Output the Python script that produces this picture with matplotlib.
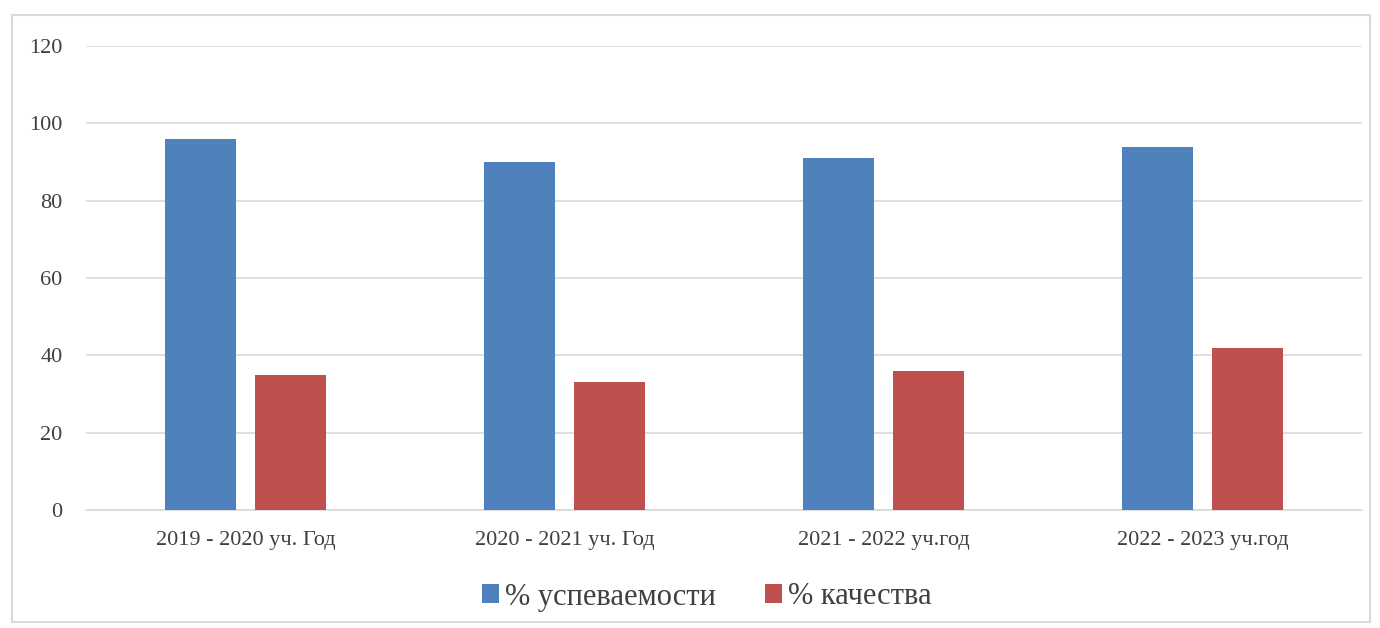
import matplotlib.pyplot as plt
import numpy as np
from matplotlib.patches import Rectangle

years = ["2019 - 2020 уч. Год", "2020 - 2021 уч. Год", "2021 - 2022 уч.год", "2022 - 2023 уч.год"]
uspevaemost = [96, 90, 91, 94]
kachestvo = [35, 33, 36, 42]

BLUE = "#4f81bd"
RED = "#c0504d"

plt.rcParams["font.family"] = ["Liberation Serif", "DejaVu Serif"]

fig = plt.figure(figsize=(13.8, 6.28), dpi=100)
ax = fig.add_axes([86 / 1380, 1 - 510 / 628, (1362 - 86) / 1380, (510 - 46) / 628])

# outer chart frame
fig.patches.append(Rectangle((12 / 1380, 1 - 622 / 628), 1358 / 1380, 607 / 628,
                             transform=fig.transFigure, fill=False,
                             edgecolor="#d9d9d9", linewidth=1.5))

x = np.arange(len(years))
w = 0.223
ax.bar(x - 0.142, uspevaemost, w, color=BLUE, label="% успеваемости", zorder=3)
ax.bar(x + 0.142, kachestvo, w, color=RED, label="% качества", zorder=3)

ax.set_xlim(-0.5, len(years) - 0.5)
ax.set_ylim(0, 120)
ax.set_yticks(range(0, 121, 20))
ax.yaxis.grid(True, color="#d9d9d9", linewidth=1.2)
ax.set_axisbelow(True)
for s in ["top", "right", "left"]:
    ax.spines[s].set_visible(False)
ax.spines["bottom"].set_color("#d9d9d9")
ax.spines["bottom"].set_linewidth(1.2)
ax.tick_params(axis="both", length=0, labelsize=16, colors="#404040")
ax.tick_params(axis="y", pad=17)
ax.tick_params(axis="x", pad=15)
ax.set_xticks(x)
ax.set_xticklabels(years)

fig.legend(loc="center", bbox_to_anchor=(707 / 1380, 1 - 597 / 628), ncol=2, frameon=False,
           fontsize=22, handlelength=0.55, handleheight=0.55, handletextpad=0.2,
           columnspacing=1.6, labelcolor="#404040")

fig.savefig("out.png", dpi=100)
